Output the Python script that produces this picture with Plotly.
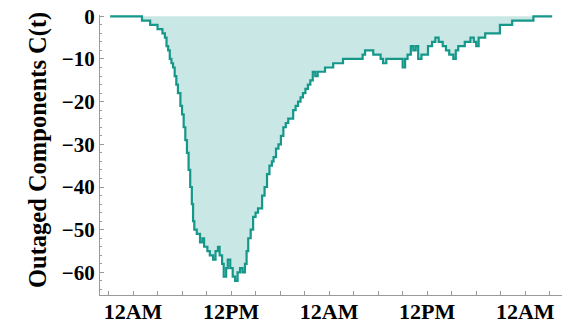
import plotly.graph_objects as go

# Hours since midnight of the first day, and the number of outaged components (negative)
hours = [
    -2.8, 1.1, 2.1, 3.0, 3.6, 3.9, 4.1, 4.3, 4.5, 4.7, 4.9, 5.1, 5.3, 5.5, 5.8,
    6.0, 6.2, 6.4, 6.6, 6.8, 7.0, 7.2, 7.35, 7.5, 7.8, 8.2, 8.5, 8.7, 9.1, 9.4,
    9.8, 10.1, 10.4, 10.6, 10.9, 11.1, 11.4, 11.6, 11.9, 12.2, 12.5, 12.8, 13.1,
    13.4, 13.7, 13.9, 14.1, 14.4, 14.7, 15.0, 15.3, 15.6, 15.8, 16.1, 16.4, 16.7,
    17.0, 17.2, 17.5, 17.8, 18.1, 18.4, 18.7, 19.0, 19.3, 19.6, 19.9, 20.2, 20.5,
    20.8, 21.1, 21.4, 21.7, 22.0, 22.3, 22.6, 23.0, 23.5, 24.1, 24.5, 25.1, 25.7,
    26.5, 27.8, 28.1, 28.4, 29.0, 29.4, 29.9, 30.3, 30.6, 31.0, 31.5, 32.7, 33.0,
    33.3, 33.6, 34.0, 34.3, 34.6, 34.9, 35.3, 35.6, 36.1, 36.6, 37.0, 37.4, 37.9,
    38.3, 38.7, 39.2, 39.5, 39.8, 40.2, 40.6, 41.0, 41.3, 41.7, 42.0, 42.3, 42.7,
    43.1, 43.7, 44.9, 45.6, 46.4, 49.0, 51.3,
]
outaged = [
    0, -1, -2, -3, -4, -5, -7, -8, -10, -11, -12, -14, -16, -18, -21,
    -23, -26, -29, -32, -36, -40, -44, -48, -50, -51, -53, -52, -54, -55, -56,
    -57, -55, -54, -56, -58, -61, -59, -57, -59, -61, -62, -60, -59,
    -60, -58, -55, -52, -50, -47, -46, -45, -45, -42, -40, -37, -35,
    -34, -33, -31, -30, -28, -26, -25, -24, -24, -22, -21, -20, -19,
    -18, -17, -16, -15, -13, -14, -13, -13, -12, -12, -11, -11, -10,
    -10, -10, -9, -8, -8, -9, -9, -10, -11, -10, -10, -10, -12,
    -10, -9, -7, -8, -7, -10, -9, -9, -7, -6, -5, -6, -7,
    -8, -9, -10, -8, -7, -7, -6, -6, -5, -6, -7, -5, -5,
    -4, -4, -2, -2, -1, 0, 0,
]

# Axis ticks: every 3 h, labelled at noon and midnight
tick_hours = list(range(-3, 52, 3))
tick_text = [("12AM" if h % 24 == 0 else "12PM") if h % 12 == 0 else "" for h in tick_hours]
y_ticks = [0, -10, -20, -30, -40, -50, -60]

line_color = "#15978a"
fill_color = "#c9e7e4"
axis_color = "#9a9a9a"
serif = "Liberation Serif"

fig = go.Figure(
    go.Scatter(
        x=hours,
        y=outaged,
        mode="lines",
        line=dict(color=line_color, width=2.2, shape="hv"),
        fill="tozeroy",
        fillcolor=fill_color,
        hoverinfo="skip",
    )
)

fig.update_layout(
    width=578,
    height=325,
    margin=dict(l=100, r=16, t=15, b=30, autoexpand=False),
    paper_bgcolor="white",
    plot_bgcolor="white",
    showlegend=False,
    xaxis=dict(
        range=[-4.04, 52.5],
        tickmode="array",
        tickvals=tick_hours,
        ticktext=tick_text,
        ticks="inside",
        ticklen=4,
        tickcolor=axis_color,
        ticklabelstandoff=-3,
        showline=True,
        linecolor=axis_color,
        linewidth=1,
        showgrid=False,
        zeroline=False,
        tickfont=dict(family=serif, size=22, color="black", weight="bold"),
    ),
    yaxis=dict(
        range=[-65.3, 0.3],
        tickmode="array",
        tickvals=y_ticks,
        ticks="inside",
        ticklen=4,
        tickcolor=axis_color,
        minor=dict(dtick=2, tick0=0, ticks="inside", ticklen=2, tickcolor=axis_color),
        showline=True,
        linecolor=axis_color,
        linewidth=1,
        showgrid=False,
        zeroline=False,
        tickfont=dict(family=serif, size=21, color="black", weight="bold"),
    ),
    annotations=[
        dict(
            text="Outaged Components C(t)",
            xref="paper",
            yref="paper",
            x=-0.134,
            y=0.518,
            xanchor="center",
            yanchor="middle",
            textangle=-90,
            showarrow=False,
            font=dict(family=serif, size=24.5, color="black", weight="bold"),
        )
    ],
)

fig.write_html("out.html")
